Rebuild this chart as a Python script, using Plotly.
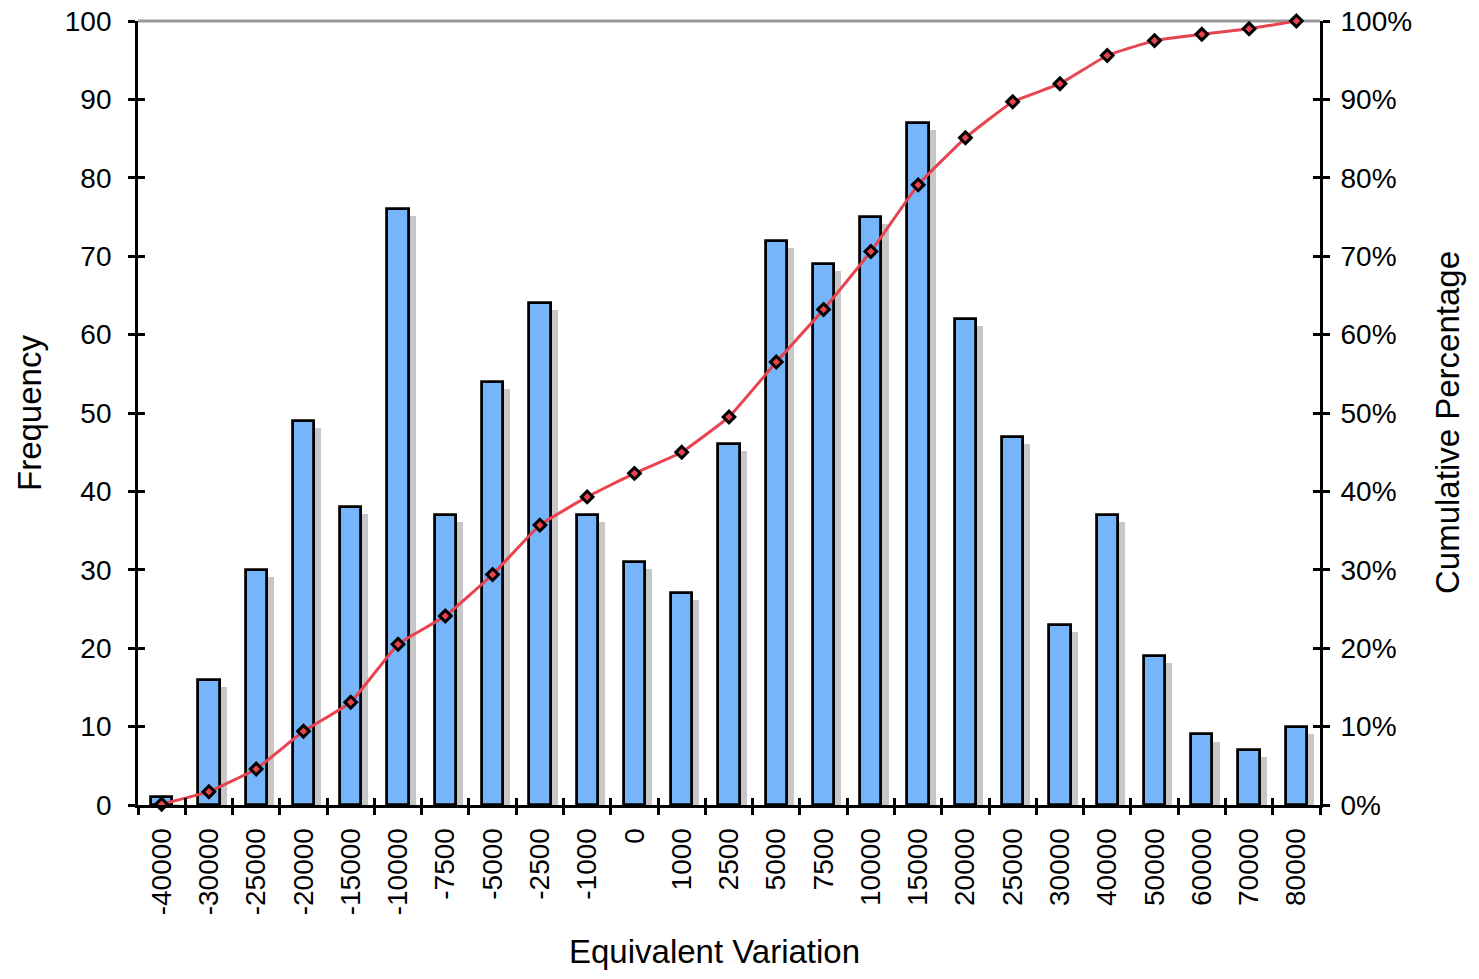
import plotly.graph_objects as go

categories = ["-40000", "-30000", "-25000", "-20000", "-15000", "-10000", "-7500", "-5000",
              "-2500", "-1000", "0", "1000", "2500", "5000", "7500", "10000", "15000",
              "20000", "25000", "30000", "40000", "50000", "60000", "70000", "80000"]
frequency = [1, 16, 30, 49, 38, 76, 37, 54, 64, 37, 31, 27, 46, 72, 69, 75, 87,
             62, 47, 23, 37, 19, 9, 7, 10]
cumulative = [0.001, 0.017, 0.046, 0.094, 0.131, 0.205, 0.241, 0.294, 0.357, 0.393, 0.423,
              0.450, 0.495, 0.565, 0.632, 0.706, 0.791, 0.851, 0.897, 0.920, 0.956,
              0.975, 0.983, 0.990, 1.000]
freq_ticks = list(range(0, 101, 10))
pct_ticks = [i / 10 for i in range(11)]

FONT = "Liberation Sans, Arial, sans-serif"
BAR_W = 0.45
SHADOW_DX = 0.15   # category units
SHADOW_DY = 0.9    # frequency units

fig = go.Figure()

# drop shadow behind bars
fig.add_trace(go.Bar(
    x=categories, y=[max(v - SHADOW_DY, 0) for v in frequency],
    width=BAR_W, offset=-BAR_W / 2 + SHADOW_DX,
    marker=dict(color="rgba(175,175,175,0.7)", line=dict(width=0)),
    hoverinfo="skip", showlegend=False,
))
# main bars
fig.add_trace(go.Bar(
    x=categories, y=frequency, width=BAR_W, offset=-BAR_W / 2,
    marker=dict(color="#76b5fa", line=dict(color="black", width=2.8)),
    name="Frequency", showlegend=False,
))
# cumulative line
fig.add_trace(go.Scatter(
    x=categories, y=cumulative, yaxis="y2", mode="lines+markers",
    line=dict(color="#e8434f", width=3, shape="spline", smoothing=0.3),
    marker=dict(symbol="diamond", size=9, color="#e8434f", line=dict(color="black", width=3)),
    name="Cumulative Percentage", showlegend=False, cliponaxis=False,
))

tickfont = dict(family=FONT, size=28, color="black")
titlefont = dict(family=FONT, size=33, color="black")

W, H = 1479, 979
L, T, PW, PH = 138, 21, 1182, 784

fig.update_layout(
    width=W, height=H,
    margin=dict(l=L, r=W - L - PW, t=T, b=H - T - PH),
    paper_bgcolor="white", plot_bgcolor="white",
    barmode="overlay", bargap=0,
    font=dict(family=FONT, color="black"),
    xaxis=dict(
        type="category", categoryorder="array", categoryarray=categories,
        range=[-0.5, len(categories) - 0.5], automargin=False,
        showline=True, linecolor="black", linewidth=2.8,
        ticks="outside", ticklen=7, tickwidth=2.8, tickcolor="black",
        tickson="boundaries", tickangle=-90, tickfont=tickfont, ticklabelstandoff=9,
        ticklabeloverflow="allow", showgrid=False, zeroline=False,
    ),
    xaxis2=dict(
        overlaying="x", anchor="y", side="bottom", range=[0, len(categories)],
        tickmode="linear", tick0=0, dtick=1, automargin=False,
        ticks="inside", ticklen=7, tickwidth=2.8, tickcolor="black",
        showticklabels=False, showgrid=False, zeroline=False, showline=False,
    ),
    yaxis=dict(
        range=[0, 100], tickmode="array", tickvals=freq_ticks, automargin=False,
        showline=True, linecolor="black", linewidth=2.8,
        ticks="outside", ticklen=7, tickwidth=2.8, tickcolor="black",
        tickfont=tickfont, ticklabelstandoff=11, ticklabeloverflow="allow",
        showgrid=False, zeroline=False,
    ),
    yaxis3=dict(
        overlaying="y", anchor="x", side="left", range=[0, 100], automargin=False,
        tickmode="array", tickvals=freq_ticks,
        ticks="inside", ticklen=7, tickwidth=2.8, tickcolor="black",
        showticklabels=False, showgrid=False, zeroline=False, showline=False,
    ),
    yaxis2=dict(
        overlaying="y", anchor="x", side="right", range=[0, 1], automargin=False,
        tickmode="array", tickvals=pct_ticks, tickformat=".0%",
        showline=True, linecolor="black", linewidth=2.8,
        ticks="outside", ticklen=7, tickwidth=2.8, tickcolor="black",
        tickfont=tickfont, ticklabelstandoff=5, ticklabeloverflow="allow",
        showgrid=False, zeroline=False,
    ),
    yaxis4=dict(
        overlaying="y", anchor="x", side="right", range=[0, 1], automargin=False,
        tickmode="array", tickvals=pct_ticks,
        ticks="inside", ticklen=7, tickwidth=2.8, tickcolor="black",
        showticklabels=False, showgrid=False, zeroline=False, showline=False,
    ),
    shapes=[dict(type="line", xref="paper", yref="paper", x0=0, x1=1, y0=1, y1=1,
                 line=dict(color="#999999", width=2.8), layer="below")],
    annotations=[
        dict(text="Frequency", xref="paper", yref="paper", x=0, y=0.5,
             xanchor="center", yanchor="middle", xshift=-109, yshift=0,
             textangle=-90, showarrow=False, font=titlefont),
        dict(text="Cumulative Percentage", xref="paper", yref="paper", x=1, y=0.5,
             xanchor="center", yanchor="middle", xshift=127, yshift=-10,
             textangle=-90, showarrow=False, font=titlefont),
        dict(text="Equivalent Variation", xref="paper", yref="paper", x=0.5, y=0,
             xanchor="center", yanchor="middle", xshift=-15, yshift=-146,
             showarrow=False, font=titlefont),
    ],
)

# invisible helper traces so overlay tick axes are drawn
fig.add_trace(go.Scatter(x=[0], y=[0], xaxis="x2", yaxis="y3", mode="markers",
                         marker=dict(opacity=0), hoverinfo="skip", showlegend=False))
fig.add_trace(go.Scatter(x=[0], y=[0], xaxis="x2", yaxis="y4", mode="markers",
                         marker=dict(opacity=0), hoverinfo="skip", showlegend=False))

fig.write_html("out.html", config={"displayModeBar": False},
               post_script="document.body.style.margin='0';")
